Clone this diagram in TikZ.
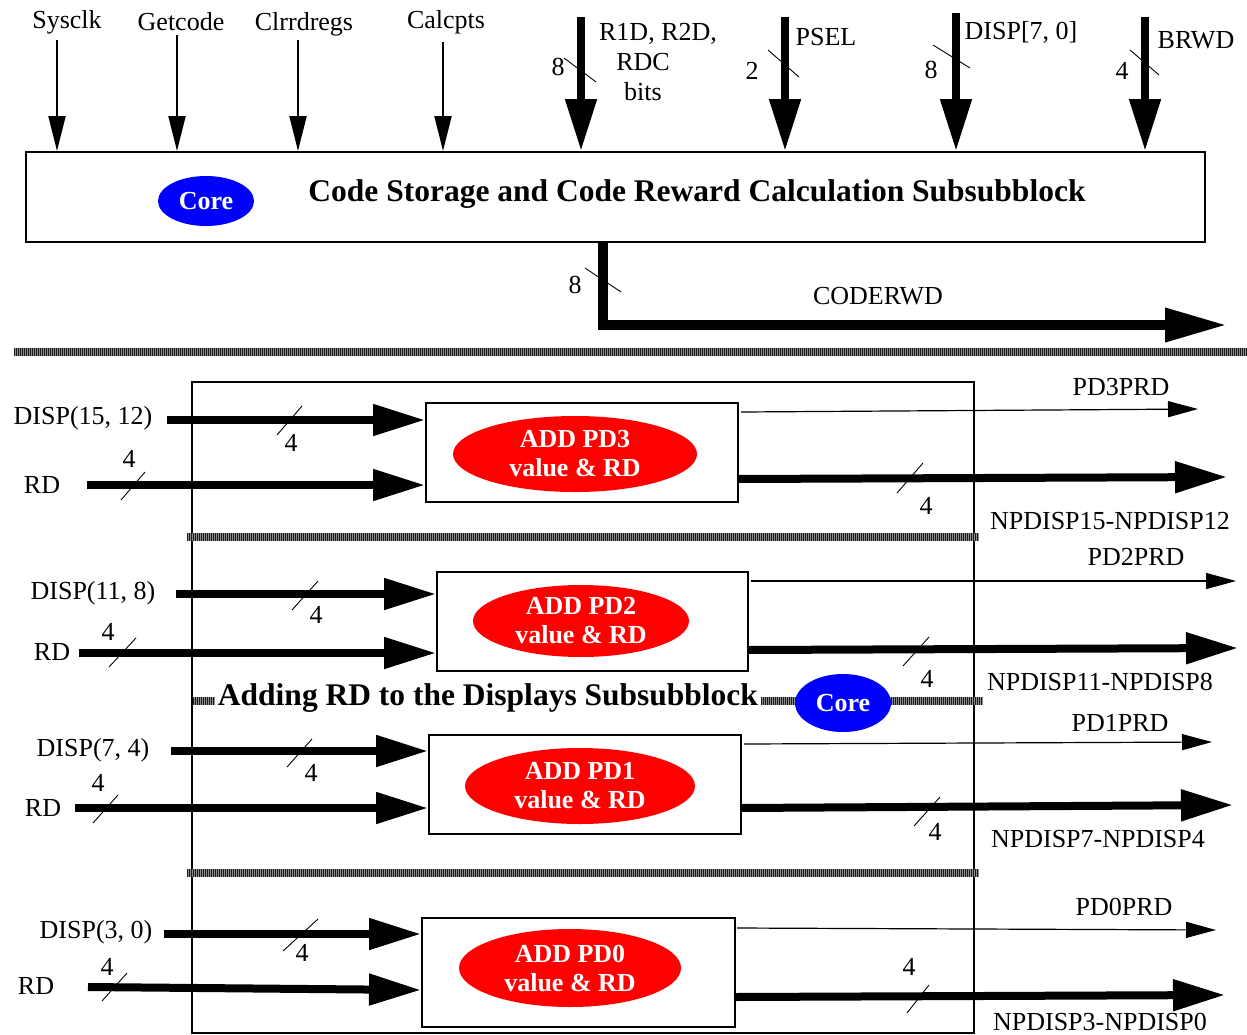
\documentclass[tikz,border=0pt]{standalone}
\usepackage{fontspec}
\setmainfont{Liberation Serif}
\usetikzlibrary{arrows.meta,shapes.geometric}
\begin{document}
\begin{tikzpicture}[x=1pt,y=-1pt,
  lbl/.style={font=\fontsize{26}{28}\selectfont, inner sep=0pt},
  ttl/.style={font=\bfseries\fontsize{31.5}{34}\selectfont, inner sep=0pt},
  thinarr/.style={line width=2pt, -{Triangle[length=35pt,width=17pt]}},
  busarr/.style={line width=8pt, -{Triangle[length=52pt,width=30pt]}},
  outarr/.style={line width=1.2pt, -{Triangle[length=30pt,width=16pt]}},
  tick/.style={line width=0.9pt},
  hatch/.style={line width=8pt, draw=black!90, dash pattern=on 1pt off 1pt,
    preaction={draw=black!45, line width=8pt, solid}},
  blk/.style={draw, line width=2pt, inner sep=0pt, anchor=north west},
  redell/.style={ellipse, fill=red, text=white, inner sep=0pt, align=center, font=\bfseries\fontsize{26}{29}\selectfont},
  blueell/.style={ellipse, fill=blue, text=white, inner sep=0pt, font=\bfseries\fontsize{26}{28}\selectfont},
]
\useasboundingbox (0,0) rectangle (1247,1034);

% ---------- top block ----------
\node[blk, minimum width=1179pt, minimum height=90pt] (top) at (25,151) {};
\node[blueell, minimum width=96pt, minimum height=50pt] (core1) at (206,201) {Core};
\node[ttl] (title) at (697,194) {Code Storage and Code Reward Calculation Subsubblock};

\node[lbl] (lsys) at (67,22) {Sysclk};
\node[lbl] (lget) at (181,22) {Getcode};
\node[lbl] (lclr) at (304,24) {Clrrdregs};
\node[lbl] (lcal) at (446,22) {Calcpts};
\coordinate (asys) at (57,40);  \draw[thinarr] (asys) -- (asys |- top.north);
\coordinate (aget) at (177,35); \draw[thinarr] (aget) -- (aget |- top.north);
\coordinate (aclr) at (298,40); \draw[thinarr] (aclr) -- (aclr |- top.north);
\coordinate (acal) at (443,42); \draw[thinarr] (acal) -- (acal |- top.north);

\coordinate (ar1d) at (581,17); \draw[busarr] (ar1d) -- (ar1d |- top.north);
\draw[tick] (564,58) -- (596,82);
\node[lbl] (n8a) at (558,67) {8};
\node[lbl] (lr1a) at (658,34) {R1D, R2D,};
\node[lbl] (lr1b) at (643,62) {RDC};
\node[lbl] (lr1c) at (643,92) {bits};

\coordinate (apsel) at (785,17); \draw[busarr] (apsel) -- (apsel |- top.north);
\draw[tick] (768,50) -- (799,77);
\node[lbl] (n2a) at (752,71) {2};
\node[lbl] (lpsel) at (826,37) {PSEL};

\coordinate (adisp) at (956,13); \draw[busarr] (adisp) -- (adisp |- top.north);
\draw[tick] (933,45) -- (970,68);
\node[lbl] (n8b) at (931,70) {8};
\node[lbl] (ldisp) at (1021,32) {DISP[7, 0]};

\coordinate (abrwd) at (1145,17); \draw[busarr] (abrwd) -- (abrwd |- top.north);
\draw[tick] (1130,50) -- (1159,75);
\node[lbl] (n4a) at (1122,71) {4};
\node[lbl] (lbrwd) at (1196,40) {BRWD};

\coordinate (cwS) at (603,241); \coordinate (cwK) at (603,325); \coordinate (cwE) at (1227,325);
\draw[line width=10pt, -{Triangle[length=62pt,width=32pt]}] (top.south -| cwS) -- (cwK) -- (cwE);
\draw[tick] (585,268) -- (621,292);
\node[lbl] (n8c) at (575,285) {8};
\node[lbl] (lcw) at (878,296) {CODERWD};

\draw[hatch] (14,352) -- (1247,352);

% ---------- bottom block ----------
\node[blk, minimum width=782pt, minimum height=651pt] (bot) at (191,381) {};

% PD3
\node[blk, minimum width=312pt, minimum height=99pt] (b3) at (425,402) {};
\node[redell, minimum width=244pt, minimum height=76pt] (e3) at (575,454) {ADD PD3\\value \& RD};
\node[lbl] (ld3) at (83,418) {DISP(15, 12)};
\coordinate (d3S) at (167,420); \draw[busarr] (d3S) -- (d3S -| b3.west);
\draw[tick] (277,435) -- (302,406); \node[lbl] (t3a) at (291,443) {4};
\node[lbl] (lr3) at (42,485) {RD};
\coordinate (r3S) at (87,485); \draw[busarr] (r3S) -- (r3S -| b3.west);
\draw[tick] (121,500) -- (145,472); \node[lbl] (t3b) at (129,459) {4};
\coordinate (p3S) at (741,412); \coordinate (p3E) at (1198,409); \draw[outarr] (p3S) -- (p3E);
\node[lbl] (lp3) at (1121,387) {PD3PRD};
\coordinate (o3S) at (737,479); \coordinate (o3E) at (1227,477); \draw[busarr] (o3S) -- (o3E);
\draw[tick] (897,493) -- (923,463); \node[lbl] (t3c) at (926,506) {4};
\node[lbl] (lo3) at (1110,521) {NPDISP15-NPDISP12};

\draw[hatch] (187,537) -- (979,537);

% PD2
\node[blk, minimum width=311pt, minimum height=99pt] (b2) at (436,571) {};
\node[redell, minimum width=216pt, minimum height=72pt] (e2) at (581,621) {ADD PD2\\value \& RD};
\node[lbl] (ld2) at (93,593) {DISP(11, 8)};
\coordinate (d2S) at (176,594); \draw[busarr] (d2S) -- (d2S -| b2.west);
\draw[tick] (292,610) -- (318,581); \node[lbl] (t2a) at (316,615) {4};
\node[lbl] (lr2) at (52,652) {RD};
\coordinate (r2S) at (79,653); \draw[busarr] (r2S) -- (r2S -| b2.west);
\draw[tick] (109,667) -- (136,638); \node[lbl] (t2b) at (108,632) {4};
\coordinate (p2S) at (751,581); \coordinate (p2E) at (1236,581); \draw[outarr] (p2S) -- (p2E);
\node[lbl] (lp2) at (1136,557) {PD2PRD};
\coordinate (o2S) at (747,650); \coordinate (o2E) at (1238,648); \draw[busarr] (o2S) -- (o2E);
\draw[tick] (903,666) -- (929,637); \node[lbl] (t2c) at (927,679) {4};
\node[lbl] (lo2) at (1100,682) {NPDISP11-NPDISP8};

% middle title
\draw[hatch] (193,701) -- (983,701);
\node[ttl, fill=white, inner xsep=3pt, inner ysep=2pt] (mid) at (488,698) {Adding RD to the Displays Subsubblock};
\node[blueell, minimum width=96pt, minimum height=58pt] (core2) at (843,703) {Core};

% PD1
\node[blk, minimum width=312pt, minimum height=99pt] (b1) at (428,734) {};
\node[redell, minimum width=230pt, minimum height=76pt] (e1) at (580,786) {ADD PD1\\value \& RD};
\node[lbl] (ld1) at (93,750) {DISP(7, 4)};
\coordinate (d1S) at (171,751); \draw[busarr] (d1S) -- (d1S -| b1.west);
\draw[tick] (287,767) -- (312,739); \node[lbl] (t1a) at (311,773) {4};
\node[lbl] (lr1) at (43,808) {RD};
\coordinate (r1S) at (75,808); \draw[busarr] (r1S) -- (r1S -| b1.west);
\draw[tick] (93,823) -- (118,795); \node[lbl] (t1b) at (98,783) {4};
\coordinate (p1S) at (744,744); \coordinate (p1E) at (1212,742); \draw[outarr] (p1S) -- (p1E);
\node[lbl] (lp1) at (1120,723) {PD1PRD};
\coordinate (o1S) at (740,808); \coordinate (o1E) at (1233,805); \draw[busarr] (o1S) -- (o1E);
\draw[tick] (914,826) -- (940,797); \node[lbl] (t1c) at (935,832) {4};
\node[lbl] (lo1) at (1098,839) {NPDISP7-NPDISP4};

\draw[hatch] (187,873) -- (979,873);

% PD0
\node[blk, minimum width=313pt, minimum height=109pt] (b0) at (421,917) {};
\node[redell, minimum width=222pt, minimum height=78pt] (e0) at (570,968) {ADD PD0\\value \& RD};
\node[lbl] (ld0) at (96,932) {DISP(3, 0)};
\coordinate (d0S) at (164,934); \draw[busarr] (d0S) -- (d0S -| b0.west);
\draw[tick] (283,951) -- (318,919); \node[lbl] (t0a) at (302,953) {4};
\node[lbl] (lr0) at (36,986) {RD};
\coordinate (r0S) at (88,987); \coordinate (r0E) at (421,990); \draw[busarr] (r0S) -- (r0E);
\draw[tick] (102,1001) -- (127,973); \node[lbl] (t0b) at (107,967) {4};
\coordinate (p0S) at (737,928); \coordinate (p0E) at (1216,930); \draw[outarr] (p0S) -- (p0E);
\node[lbl] (lp0) at (1124,907) {PD0PRD};
\coordinate (o0S) at (734,997); \coordinate (o0E) at (1225,995); \draw[busarr] (o0S) -- (o0E);
\draw[tick] (907,1013) -- (929,985); \node[lbl] (t0c) at (909,967) {4};
\node[lbl] (lo0) at (1100,1022) {NPDISP3-NPDISP0};
\end{tikzpicture}
\end{document}
